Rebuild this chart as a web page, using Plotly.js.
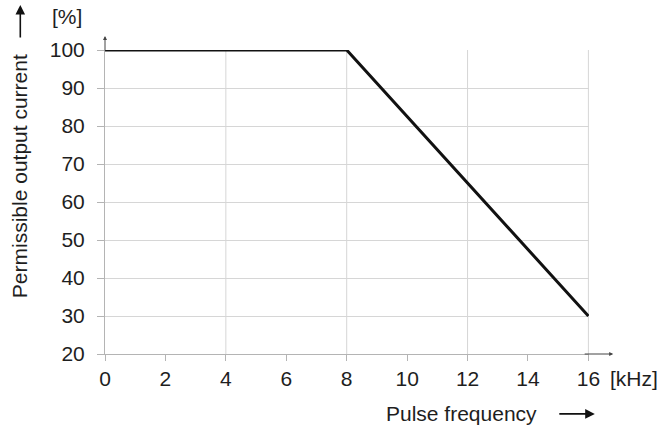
<!DOCTYPE html>
<html>
<head>
<meta charset="utf-8">
<script src="https://cdn.plot.ly/plotly-3.0.1.min.js"></script>
<style>html,body{margin:0;padding:0;background:#fff;}#chart{width:661px;height:430px;}</style>
</head>
<body>
<div id="chart"></div>
<script>
// Data
const freqKHz = [0, 8, 16];
const currentPct = [100, 100, 30];
const xTicks = [0, 2, 4, 6, 8, 10, 12, 14, 16];
const yTicks = [20, 30, 40, 50, 60, 70, 80, 90, 100];
const xGrid = [4, 8, 12, 16];
const yGrid = [30, 40, 50, 60, 70, 80, 90];
const xTitle = 'Pulse frequency';
const yTitle = 'Permissible output current';
const xUnit = '[kHz]';
const yUnit = '[%]';

const FONT = 'Liberation Sans, Arial, Helvetica, sans-serif';
const FS = 21;
const TXT = '#1e1e1e';
const AX = '#b4b4b4';
const GRID = '#d6d6d6';
const XR = [0, 16.02];
const YR = [20, 100];

const traces = [
  { x: freqKHz, y: currentPct, xaxis: 'x2', yaxis: 'y2', mode: 'lines',
    line: {color: 'rgba(0,0,0,0)', width: 0}, hoverinfo: 'skip', showlegend: false },
  { x: freqKHz, y: currentPct, xaxis: 'x', yaxis: 'y', mode: 'lines',
    line: {color: '#111111', width: 3}, showlegend: false }
];

// vertical grid lines (drawn as shapes so the one at the right edge is kept)
const gridShapes = xGrid.map(v => ({
  type: 'line', xref: 'x', yref: 'y', x0: v, x1: v, y0: YR[0], y1: YR[1],
  line: {color: GRID, width: 1}, layer: 'below'
}));

const layout = {
  width: 661, height: 430,
  margin: {l: 105, r: 72, t: 50, b: 76},
  paper_bgcolor: '#ffffff', plot_bgcolor: 'rgba(0,0,0,0)',
  font: {family: FONT, size: FS, color: TXT},
  showlegend: false,
  xaxis: {
    range: XR, tickmode: 'array', tickvals: xTicks,
    ticks: 'outside', ticklen: 6, tickwidth: 1, tickcolor: AX,
    showgrid: false, zeroline: false, showline: true, linecolor: AX, linewidth: 1,
    tickfont: {family: FONT, size: FS, color: TXT}, ticklabelstandoff: 0, fixedrange: true
  },
  yaxis: {
    range: YR, tickmode: 'array', tickvals: yTicks,
    ticks: 'outside', ticklen: 7, tickwidth: 1, tickcolor: AX,
    showgrid: false, zeroline: false, showline: true, linecolor: AX, linewidth: 1,
    tickfont: {family: FONT, size: FS, color: TXT}, ticklabelstandoff: 8, fixedrange: true
  },
  xaxis2: {
    overlaying: 'x', anchor: 'y', range: XR, showgrid: false, showticklabels: false, ticks: '',
    zeroline: false, showline: false, fixedrange: true
  },
  yaxis2: {
    overlaying: 'y', anchor: 'x', range: YR, tickmode: 'array', tickvals: yGrid,
    showgrid: true, gridcolor: GRID, gridwidth: 1, showticklabels: false, ticks: '',
    zeroline: false, showline: false, fixedrange: true
  },
  shapes: gridShapes,
  annotations: [
    // axis-line extensions with small arrowheads
    { xref: 'x', yref: 'paper', x: 0, y: 1.046, ax: 0, ay: 16, axref: 'pixel', ayref: 'pixel',
      text: '', showarrow: true, arrowhead: 2, arrowsize: 0.8, arrowwidth: 1, arrowcolor: '#444', standoff: 0, startstandoff: 0 },
    { xref: 'paper', yref: 'y', x: 1.05, y: 20, ax: -30, ay: 0, axref: 'pixel', ayref: 'pixel',
      text: '', showarrow: true, arrowhead: 2, arrowsize: 0.8, arrowwidth: 1, arrowcolor: '#444', standoff: 0, startstandoff: 0 },
    // units
    { xref: 'paper', yref: 'paper', x: -0.043, y: 1.11, xanchor: 'right', yanchor: 'middle',
      text: yUnit, showarrow: false, font: {family: FONT, size: FS, color: TXT} },
    { xref: 'paper', yref: 'y', x: 1.04, y: 20, xanchor: 'left', yanchor: 'top', yshift: -11,
      text: xUnit, showarrow: false, font: {family: FONT, size: FS, color: TXT} },
    // titles
    { xref: 'paper', yref: 'paper', x: 0.7376, y: -0.197, xanchor: 'center', yanchor: 'middle',
      text: xTitle, showarrow: false, font: {family: FONT, size: FS, color: TXT} },
    { xref: 'paper', yref: 'paper', x: -0.175, y: 0.586, xanchor: 'center', yanchor: 'middle',
      text: yTitle, textangle: -90, showarrow: false, font: {family: FONT, size: FS, color: TXT} },
    // title arrows
    { xref: 'paper', yref: 'paper', x: 1.012, y: -0.197, ax: -37, ay: 0, axref: 'pixel', ayref: 'pixel',
      text: '', showarrow: true, arrowhead: 2, arrowsize: 1.2, arrowwidth: 1.6, arrowcolor: '#111', standoff: 0 },
    { xref: 'paper', yref: 'paper', x: -0.175, y: 1.148, ax: 0, ay: 34, axref: 'pixel', ayref: 'pixel',
      text: '', showarrow: true, arrowhead: 2, arrowsize: 1.2, arrowwidth: 1.6, arrowcolor: '#111', standoff: 0 }
  ]
};

Plotly.newPlot('chart', traces, layout, {displayModeBar: false, staticPlot: true});
</script>
</body>
</html>
